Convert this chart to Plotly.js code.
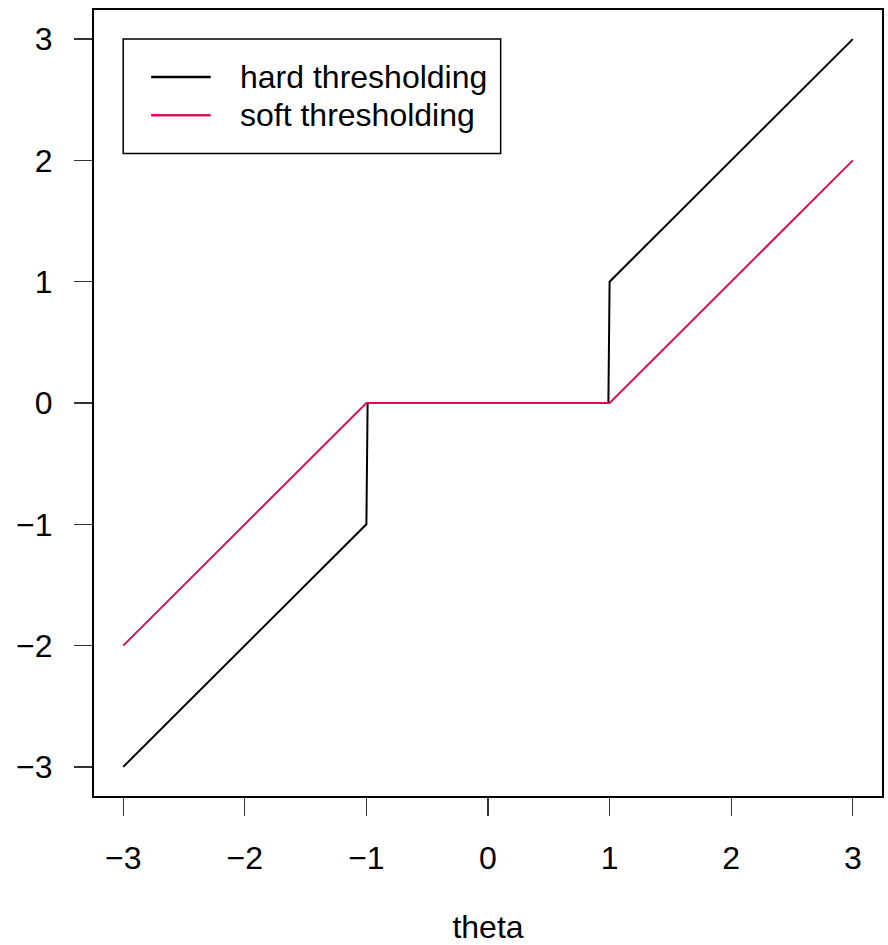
<!DOCTYPE html>
<html>
<head>
<meta charset="utf-8">
<script src="https://cdn.plot.ly/plotly-3.0.1.min.js"></script>
<style>html,body{margin:0;padding:0;background:#fff;}</style>
</head>
<body>
<div id="chart" style="width:888px;height:945px;"></div>
<script>
// Data
const hardTheta = [-3, -1, -0.99, 0.99, 1, 3];
const hardValue = [-3, -1, 0, 0, 1, 3];
const softTheta = [-3, -1, 1, 3];
const softValue = [-2, 0, 0, 2];
const seriesNames = ["hard thresholding", "soft thresholding"];
const seriesColors = ["#000000", "#D6125A"];
const tickVals = [-3, -2, -1, 0, 1, 2, 3];
const xTitle = "theta";

const FONT = "Liberation Sans, Arial, Helvetica, sans-serif";
const FS = 32;

const traces = [
  {x: hardTheta, y: hardValue, type: "scatter", mode: "lines", name: seriesNames[0],
   line: {color: seriesColors[0], width: 2}, showlegend: false, hoverinfo: "skip"},
  {x: softTheta, y: softValue, type: "scatter", mode: "lines", name: seriesNames[1],
   line: {color: seriesColors[1], width: 2}, showlegend: false, hoverinfo: "skip"}
];

// manual R-style legend (anchored at data point (-3, 3) like legend(-3, 3, ...))
const legRowY = [2.687, 2.372];
const shapes = [
  {type: "rect", xref: "x", yref: "y", x0: -3, x1: 0.104, y0: 2.057, y1: 3,
   line: {color: "#000", width: 1.5}, fillcolor: "rgba(0,0,0,0)"}
];
const annotations = [];
seriesNames.forEach((nm, i) => {
  shapes.push({type: "line", xref: "x", yref: "y", x0: -2.77, x1: -2.28, y0: legRowY[i], y1: legRowY[i],
    line: {color: seriesColors[i], width: 2.5}});
  annotations.push({xref: "x", yref: "y", x: -2.058, y: legRowY[i], text: nm, showarrow: false,
    xanchor: "left", yanchor: "middle", font: {family: FONT, size: FS, color: "#000"}});
});

const axisCommon = {
  range: [-3.24, 3.24],
  tickmode: "array",
  tickvals: tickVals,
  ticktext: tickVals.map(v => v < 0 ? "\u2212" + Math.abs(v) : String(v)),
  ticks: "outside",
  ticklen: 18,
  tickwidth: 1.3,
  tickcolor: "#333",
  showline: true,
  mirror: true,
  linecolor: "#000",
  linewidth: 2,
  showgrid: false,
  zeroline: false,
  tickfont: {family: FONT, size: FS, color: "#000"},
  fixedrange: true
};

const layout = {
  width: 888,
  height: 945,
  margin: {l: 94, r: 6, t: 10, b: 149, pad: 0},
  paper_bgcolor: "#fff",
  plot_bgcolor: "#fff",
  font: {family: FONT, size: FS, color: "#000"},
  showlegend: false,
  xaxis: Object.assign({}, axisCommon, {
    ticklabelstandoff: 15,
    title: {text: xTitle, font: {family: FONT, size: FS, color: "#000"}, standoff: 51}
  }),
  yaxis: Object.assign({}, axisCommon, {
    ticklabelstandoff: 15
  }),
  shapes: shapes,
  annotations: annotations
};

Plotly.newPlot("chart", traces, layout, {displayModeBar: false, staticPlot: true});
</script>
</body>
</html>
